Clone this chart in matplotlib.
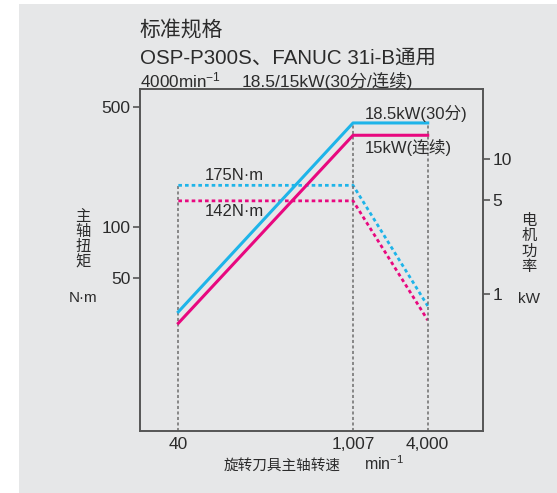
import matplotlib
matplotlib.use('Agg')
import matplotlib.pyplot as plt
from matplotlib.patches import Rectangle
from matplotlib.ticker import FixedLocator, NullLocator, FixedFormatter

plt.rcParams['font.family'] = ['Liberation Sans', 'Noto Sans CJK SC', 'DejaVu Sans']
plt.rcParams['mathtext.fontset'] = 'custom'
plt.rcParams['mathtext.rm'] = 'Liberation Sans'
plt.rcParams['mathtext.it'] = 'Liberation Sans:italic'

# data
speed = [40, 1007, 4000]
power_30min = [0.74, 18.5, 18.5]
power_cont = [0.61, 15, 15]
torque_30min = [175, 175, 34.5]
torque_cont = [142, 142, 28.5]

x_ticks = [40, 1007, 4000]
x_labels = ['40', '1,007', '4,000']
torque_ticks = [50, 100, 500]
power_ticks = [1, 5, 10]

BLUE = '#1eb4e9'
PINK = '#e8087f'
GRID = '#6d6d6d'
TXT = '#2b2b2b'
BG = '#e6e7e8'
MIN_INV = r'min$^{\mathregular{-1}}$'

W, H = 557, 493
fig = plt.figure(figsize=(W / 100, H / 100), dpi=100)
fig.patch.set_facecolor('white')
fig.patches.append(Rectangle((19 / W, 0), 1, (H - 4) / H, transform=fig.transFigure,
                             facecolor=BG, edgecolor='none', zorder=-10))

def px(x, y):
    return x / W, 1 - y / H

l, r, t, b = 140, 483, 89, 431
ax = fig.add_axes([l / W, 1 - b / H, (r - l) / W, (b - t) / H])
ax.set_facecolor('none')
ax.set_xscale('log')
ax.set_yscale('log')
ax.set_xlim(19.7, 11100)
ax.set_ylim(6.41, 640)

ax2 = ax.twinx()
ax2.set_yscale('log')
ax2.set_ylim(0.0971, 33.0)

# reference lines
ax.plot([40, 40], [6.41, torque_30min[0]], color=GRID, lw=1.1, ls=(0, (2, 1.6)), zorder=1)
for s in x_ticks[1:]:
    ax2.plot([s, s], [0.0971, power_30min[1]], color=GRID, lw=1.1, ls=(0, (2, 1.6)), zorder=1)

# torque (dotted)
ax.plot(speed, torque_30min, color=BLUE, lw=2.0, ls=(0, (1.3, 1.1)), zorder=3)
ax.plot(speed, torque_cont, color=PINK, lw=2.0, ls=(0, (1.3, 1.1)), zorder=3)
# power (solid)
ax2.plot(speed, power_30min, color=BLUE, lw=2.2, zorder=3)
ax2.plot(speed, power_cont, color=PINK, lw=2.2, zorder=3)

for a in (ax, ax2):
    for sp in a.spines.values():
        sp.set_color('#555555')
        sp.set_linewidth(1.2)

ax.xaxis.set_major_locator(FixedLocator(x_ticks))
ax.xaxis.set_major_formatter(FixedFormatter(x_labels))
ax.xaxis.set_minor_locator(NullLocator())
ax.tick_params(axis='x', length=0, pad=4, labelsize=12.5, labelcolor=TXT)

ax.yaxis.set_major_locator(FixedLocator(torque_ticks))
ax.yaxis.set_major_formatter(FixedFormatter([str(v) for v in torque_ticks]))
ax.yaxis.set_minor_locator(NullLocator())
ax.tick_params(axis='y', direction='out', length=5, width=1.2, color='#555555',
               pad=2, labelsize=12.5, labelcolor=TXT)

ax2.yaxis.set_major_locator(FixedLocator(power_ticks))
ax2.yaxis.set_major_formatter(FixedFormatter([str(v) for v in power_ticks]))
ax2.yaxis.set_minor_locator(NullLocator())
ax2.tick_params(axis='y', direction='out', length=5, width=1.2, color='#555555',
                pad=2, labelsize=12.5, labelcolor=TXT)

# annotations
def label(x, y, s, size=11, **kw):
    fx, fy = px(x, y)
    fig.text(fx, fy, s, fontsize=size, color=TXT, **kw)

label(365, 114, '18.5kW(30分)', size=12, ha='left', va='center')
label(365, 147, '15kW(连续)', size=12, ha='left', va='center')
label(205, 176, '175N·m', size=12, ha='left', va='center')
label(205, 212, '142N·m', size=12, ha='left', va='center')

# header
label(140, 30, '标准规格', size=15, ha='left', va='center')
label(140, 58, 'OSP-P300S、FANUC 31i-B通用', size=14.8, ha='left', va='center')
label(140, 87, '4000' + MIN_INV, size=12.3, ha='left', va='baseline')
label(242, 87, '18.5/15kW(30分/连续)', size=12.5, ha='left', va='baseline')

# axis titles
label(83, 240, '主\n轴\n扭\n矩', size=11, ha='center', va='center', linespacing=1.1)
label(83, 298, 'N·m', size=11, ha='center', va='center')
label(529, 244, '电\n机\n功\n率', size=11, ha='center', va='center', linespacing=1.1)
label(529, 299, 'kW', size=11, ha='center', va='center')
label(224, 470, '旋转刀具主轴转速', size=10.5, ha='left', va='baseline')
label(364, 470, MIN_INV, size=11.5, ha='left', va='baseline')

fig.savefig('out.png', dpi=100)
